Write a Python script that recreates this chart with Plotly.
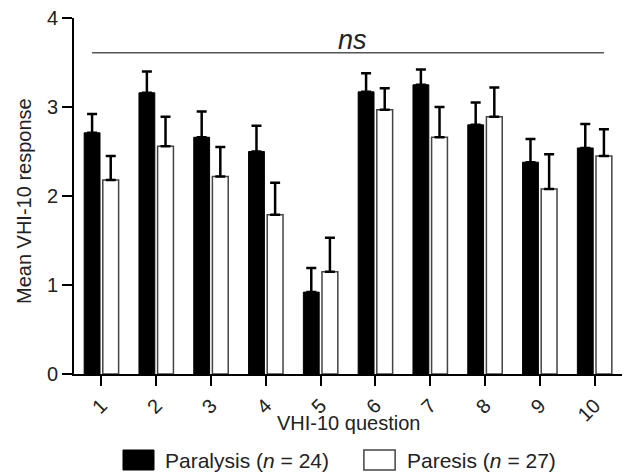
import plotly.graph_objects as go

questions = [1, 2, 3, 4, 5, 6, 7, 8, 9, 10]
tick_labels = ["1", "2", "3", "4", "5", "6", "7", "8", "9", "10"]
paralysis_mean = [2.71, 3.16, 2.66, 2.50, 0.92, 3.17, 3.25, 2.80, 2.38, 2.54]
paralysis_err = [0.21, 0.24, 0.29, 0.29, 0.27, 0.21, 0.17, 0.25, 0.26, 0.27]
paresis_mean = [2.18, 2.56, 2.22, 1.79, 1.15, 2.97, 2.66, 2.89, 2.08, 2.45]
paresis_err = [0.27, 0.33, 0.33, 0.36, 0.38, 0.24, 0.34, 0.33, 0.39, 0.30]
ns_level = 3.61

FONT = "Liberation Sans, Arial, sans-serif"
BARGAP = 0.32

fig = go.Figure()
fig.add_trace(go.Bar(
    x=questions, y=paralysis_mean, name="Paralysis (n = 24)",
    marker=dict(color="black", line=dict(color="black", width=1)),
    error_y=dict(type="data", array=paralysis_err, symmetric=False,
                 arrayminus=[0] * len(paralysis_err), color="black",
                 thickness=2.5, width=5),
))
fig.add_trace(go.Bar(
    x=questions, y=paresis_mean, name="Paresis (n = 27)",
    marker=dict(color="white", line=dict(color="#444444", width=1.5)),
    error_y=dict(type="data", array=paresis_err, symmetric=False,
                 arrayminus=[0] * len(paresis_err), color="black",
                 thickness=2.5, width=5),
))

off = (1 - BARGAP) / 4
fig.add_shape(type="line", xref="x", yref="y",
              x0=questions[0] - off, x1=questions[-1] + off,
              y0=ns_level, y1=ns_level,
              line=dict(color="#555555", width=1.5))
fig.add_annotation(x=5.59, y=3.75, xref="x", yref="y", text="<i>ns</i>",
                   showarrow=False, font=dict(family=FONT, size=27, color="#222"))

# axis titles
fig.add_annotation(x=0.5, y=-0.1376, xref="paper", yref="paper",
                   text="VHI-10 question", showarrow=False,
                   xanchor="center", yanchor="middle",
                   font=dict(family=FONT, size=20, color="#222"))
fig.add_annotation(x=-0.0912, y=0.486, xref="paper", yref="paper",
                   text="Mean VHI-10 response", showarrow=False, textangle=-90,
                   xanchor="center", yanchor="middle",
                   font=dict(family=FONT, size=20, color="#222"))

# custom legend
fig.add_shape(type="rect", xref="paper", yref="paper",
              x0=0.0894, x1=0.146, y0=-0.2135, y1=-0.2697,
              fillcolor="black", line=dict(color="black", width=1))
fig.add_shape(type="rect", xref="paper", yref="paper",
              x0=0.529, x1=0.586, y0=-0.2135, y1=-0.2697,
              fillcolor="white", line=dict(color="#444444", width=1.5))
fig.add_annotation(x=0.1624, y=-0.244, xref="paper", yref="paper",
                   text="Paralysis (<i>n</i> = 24)", showarrow=False,
                   xanchor="left", yanchor="middle",
                   font=dict(family=FONT, size=21, color="#222"))
fig.add_annotation(x=0.604, y=-0.244, xref="paper", yref="paper",
                   text="Paresis (<i>n</i> = 27)", showarrow=False,
                   xanchor="left", yanchor="middle",
                   font=dict(family=FONT, size=21, color="#222"))

fig.update_layout(
    width=624, height=475,
    margin=dict(l=74, r=2, t=18, b=101),
    paper_bgcolor="white", plot_bgcolor="white",
    barmode="group", bargap=BARGAP, bargroupgap=0.15,
    showlegend=False,
    font=dict(family=FONT, color="#222"),
)
fig.update_xaxes(
    range=[0.5, 10.5], tickmode="array", tickvals=questions, ticktext=tick_labels,
    tickangle=-45, ticks="outside", ticklen=10, tickwidth=2, tickcolor="black",
    showline=True, linecolor="black", linewidth=2, showgrid=False, zeroline=False,
    tickfont=dict(family=FONT, size=20, color="#222"), automargin=False,
)
fig.update_yaxes(
    range=[0, 4], tickvals=[0, 1, 2, 3, 4], ticks="outside", ticklen=10,
    tickwidth=2, tickcolor="black", showline=True, linecolor="black", linewidth=2,
    showgrid=False, zeroline=False,
    tickfont=dict(family=FONT, size=20, color="#222"), automargin=False,
)

fig.write_html("out.html", config={"displayModeBar": False},
               post_script="document.body.style.margin='0';document.body.style.overflow='hidden';")
